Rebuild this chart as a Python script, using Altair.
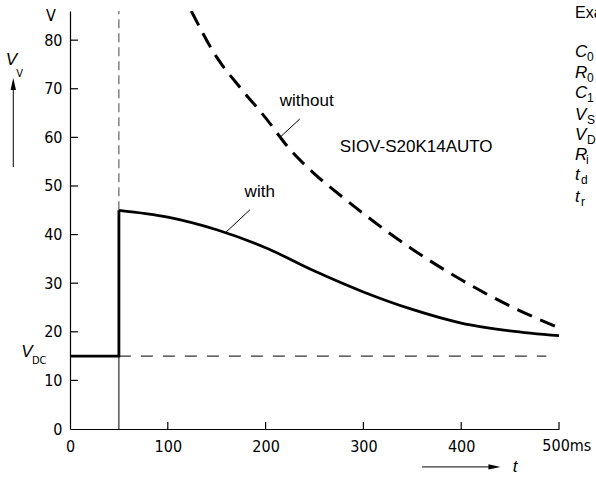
import altair as alt
import pandas as pd

# ---- data ----
t_step = [0, 50, 50]
v_step = [15, 15, 45]
t_with = [50, 100, 150, 200, 250, 300, 350, 400, 450, 500]
v_with = [45, 43.6, 41.0, 37.3, 32.5, 28.2, 24.6, 21.8, 20.2, 19.2]
t_without = [124, 150, 175, 200, 225, 250, 275, 300, 350, 400, 450, 500]
v_without = [86, 76.5, 70.0, 64.0, 57.5, 52.5, 48.3, 44.3, 37.0, 30.7, 25.3, 20.8]
v_dc = 15
t_switch = 50
x_ticks = [0, 100, 200, 300, 400, 500]
y_ticks = [0, 10, 20, 30, 40, 50, 60, 70, 80]

right_main = ["C", "R", "C", "V", "V", "R", "t", "t"]
right_sub = ["0", "0", "1", "S", "DC", "i", "d", "r"]

TICK_FONT = "DejaVu Sans Condensed, DejaVu Sans"
LAB_FONT = "Liberation Sans, Arial, Helvetica"

XS = alt.Scale(domain=[0, 500], nice=False, zero=False)
YS = alt.Scale(domain=[0, 86], nice=False, zero=False)

x_axis = alt.Axis(values=x_ticks, tickSize=0, labelPadding=9, grid=False, title=None,
                  labelExpr="datum.value == 500 ? '' : datum.label",
                  domainColor="black", domainWidth=1.2, labelFont=TICK_FONT,
                  labelFontSize=16, labelColor="black", labelFlush=False)
y_axis = alt.Axis(values=y_ticks, tickSize=0, labelPadding=8, grid=False, title=None,
                  domainColor="black", domainWidth=1.2, labelFont=TICK_FONT,
                  labelFontSize=16, labelColor="black", labelFlush=False)

df_with = pd.DataFrame({"t": t_with, "v": v_with})
df_step = pd.DataFrame({"t": t_step, "v": v_step, "o": list(range(len(t_step)))})
df_without = pd.DataFrame({"t": t_without, "v": v_without})

with_line = alt.Chart(df_with).mark_line(color="black", strokeWidth=2.8, interpolate="monotone").encode(
    x=alt.X("t:Q", scale=XS, axis=x_axis),
    y=alt.Y("v:Q", scale=YS, axis=y_axis),
)
step_line = alt.Chart(df_step).mark_line(color="black", strokeWidth=2.8).encode(
    x=alt.X("t:Q", scale=XS), y=alt.Y("v:Q", scale=YS), order="o:Q")
without_line = alt.Chart(df_without).mark_line(color="black", strokeWidth=3, strokeDash=[16, 9],
                                                interpolate="monotone", clip=True).encode(
    x=alt.X("t:Q", scale=XS), y=alt.Y("v:Q", scale=YS))

# thin helper lines
rules_df = pd.DataFrame({
    "x": [t_switch, t_switch, t_switch],
    "x2": [t_switch, t_switch, 487],
    "y": [45, 0, v_dc],
    "y2": [86, v_dc, v_dc],
    "kind": ["vdash", "vsolid", "hdash"],
})
vdash = alt.Chart(rules_df[rules_df.kind == "vdash"]).mark_rule(color="#444", strokeWidth=1, strokeDash=[9, 5]).encode(
    x=alt.X("x:Q", scale=XS), x2="x2:Q", y=alt.Y("y:Q", scale=YS), y2="y2:Q")
vsolid = alt.Chart(rules_df[rules_df.kind == "vsolid"]).mark_rule(color="black", strokeWidth=1).encode(
    x=alt.X("x:Q", scale=XS), x2="x2:Q", y=alt.Y("y:Q", scale=YS), y2="y2:Q")
hdash = alt.Chart(rules_df[rules_df.kind == "hdash"]).mark_rule(color="#333", strokeWidth=1.3, strokeDash=[12, 10]).encode(
    x=alt.X("x:Q", scale=XS), x2="x2:Q", y=alt.Y("y:Q", scale=YS), y2="y2:Q")

# inward ticks
ytick = alt.Chart(pd.DataFrame({"v": y_ticks[1:]})).mark_rule(color="black", strokeWidth=1.2).encode(
    y=alt.Y("v:Q", scale=YS), x=alt.value(0), x2=alt.value(8))
xtick = alt.Chart(pd.DataFrame({"t": x_ticks[1:]})).mark_rule(color="black", strokeWidth=1.2).encode(
    x=alt.X("t:Q", scale=XS), y=alt.value(418), y2=alt.value(411))

# leader lines and arrows
lead_df = pd.DataFrame({"x": [214.7, 159.5, -58, 360], "x2": [235, 184, -58, 434],
                        "y": [60.0, 40.5, 53.9, -7.8], "y2": [63.8, 45.1, 71, -7.8]})
leaders = alt.Chart(lead_df).mark_rule(color="black", strokeWidth=1).encode(
    x=alt.X("x:Q", scale=XS), x2="x2:Q", y=alt.Y("y:Q", scale=YS), y2="y2:Q")
head_up = alt.Chart(pd.DataFrame({"t": [-58], "v": [71]})).mark_point(
    shape="M0,-1L0.45,1L-0.45,1Z", size=144, filled=True, color="black", opacity=1).encode(
    x=alt.X("t:Q", scale=XS), y=alt.Y("v:Q", scale=YS))
head_right = alt.Chart(pd.DataFrame({"t": [434], "v": [-7.8]})).mark_point(
    shape="M1,0L-1,0.45L-1,-0.45Z", size=144, filled=True, color="black", opacity=1).encode(
    x=alt.X("t:Q", scale=XS), y=alt.Y("v:Q", scale=YS))

def texts(df, **kw):
    return alt.Chart(df).mark_text(**kw).encode(
        x=alt.X("t:Q", scale=XS), y=alt.Y("v:Q", scale=YS), text="txt:N")

curve_labels = texts(pd.DataFrame({"t": [242, 194, 354], "v": [67.5, 48.8, 58],
                                   "txt": ["without", "with", "SIOV-S20K14AUTO"]}),
                     font=LAB_FONT, fontSize=17, align="center", baseline="middle", color="black")

unit_v = texts(pd.DataFrame({"t": [-19.4], "v": [85], "txt": ["V"]}),
               font=TICK_FONT, fontSize=16, align="center", baseline="middle", color="black")
ms_label = texts(pd.DataFrame({"t": [483], "v": [0], "txt": ["500ms"]}),
                 font=TICK_FONT, fontSize=16, align="left", baseline="top", dy=9, color="black")

ital = texts(pd.DataFrame({"t": [-59.8, -44, 455], "v": [75.9, 15.8, -7.8], "txt": ["V", "V", "t"]}),
             font=LAB_FONT, fontSize=17, fontStyle="italic", align="center", baseline="middle", color="black")
ital_sub = texts(pd.DataFrame({"t": [-55, -38.9], "v": [73.0, 14.0], "txt": ["V", "DC"]}),
                 font=TICK_FONT, fontSize=11, align="left", baseline="middle", color="black")

exa = texts(pd.DataFrame({"t": [516.4], "v": [85.6], "txt": ["Exa"]}),
            font=LAB_FONT, fontSize=16, align="left", baseline="middle", color="black")
right_v = [77.6, 73.3, 69.1, 64.6, 60.5, 56.4, 52.3, 47.7]
right_sub_t = [528.6, 528.6, 528.6, 528.6, 528.6, 527.6, 522.5, 522.5]
rmain = texts(pd.DataFrame({"t": [516.4] * len(right_main), "v": right_v, "txt": right_main}),
              font=LAB_FONT, fontSize=17, fontStyle="italic", align="left", baseline="middle", color="black")
rsub = texts(pd.DataFrame({"t": right_sub_t, "v": right_v, "txt": right_sub}),
             font=LAB_FONT, fontSize=12, align="left", baseline="middle", dy=5, color="black")

chart = alt.layer(
    with_line, hdash, vdash, vsolid, step_line, without_line, ytick, xtick, leaders,
    head_up, head_right, curve_labels, unit_v, ms_label, ital, ital_sub, exa, rmain, rsub
).properties(
    width=489, height=418,
    padding={"left": 70, "top": 11, "right": 37, "bottom": 50},
    autosize=alt.AutoSizeParams(type="none"),
    background="white",
).configure_view(stroke=None)

chart.save("out.html", embed_options={"renderer": "svg", "actions": False})
